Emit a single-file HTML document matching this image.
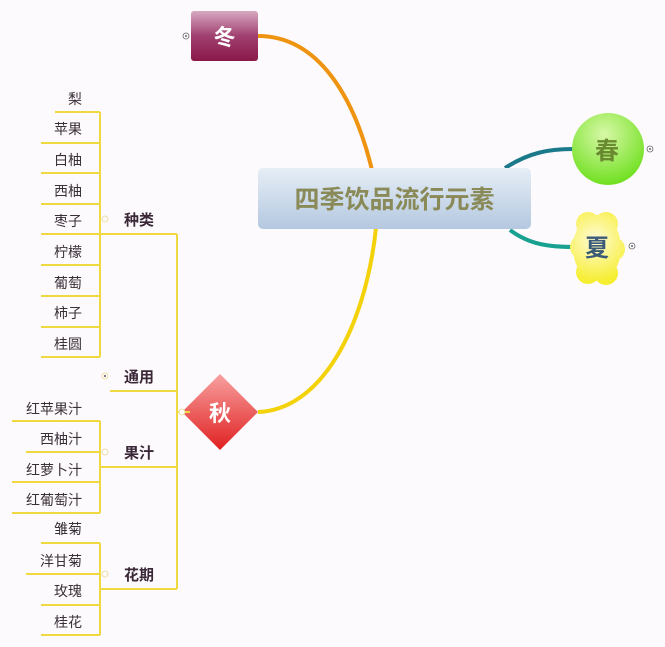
<!DOCTYPE html>
<html><head><meta charset="utf-8"><style>
html,body{margin:0;padding:0;background:#fdfafd;}
svg{display:block;font-family:"Liberation Sans","Noto Sans CJK SC",sans-serif;}
</style></head><body>
<svg width="665" height="647" viewBox="0 0 665 647" xmlns="http://www.w3.org/2000/svg">
<defs>
<linearGradient id="gw" x1="0" y1="0" x2="0" y2="1"><stop offset="0" stop-color="#d8a8c0"/><stop offset="0.5" stop-color="#a04070"/><stop offset="1" stop-color="#8a1848"/></linearGradient>
<linearGradient id="gc" x1="0" y1="0" x2="0" y2="1"><stop offset="0" stop-color="#e6eef6"/><stop offset="1" stop-color="#b4c8e0"/></linearGradient>
<radialGradient id="gs" cx="0.45" cy="0.3" r="0.7"><stop offset="0" stop-color="#d8f8a8"/><stop offset="1" stop-color="#70e020"/></radialGradient>
<radialGradient id="gx" gradientUnits="userSpaceOnUse" cx="595" cy="240" r="42"><stop offset="0" stop-color="#fffbd8"/><stop offset="1" stop-color="#f6ee30"/></radialGradient>
<linearGradient id="gq" x1="0" y1="0" x2="0" y2="1"><stop offset="0" stop-color="#f8a0a0"/><stop offset="1" stop-color="#e02020"/></linearGradient>
</defs>
<path d="M258,36 C320,36 355,100 372,170" stroke="#ef9410" stroke-width="4" fill="none"/>
<path d="M376,228 C365,330 320,410 258,412" stroke="#f4d20a" stroke-width="4" fill="none"/>
<path d="M505,168 C530,152 550,149 573,149" stroke="#1a7a8a" stroke-width="4" fill="none"/>
<path d="M510,230 C530,245 550,247 575,247" stroke="#18a090" stroke-width="4" fill="none"/>
<rect x="191" y="11" width="67" height="50" rx="3" fill="url(#gw)"/>
<text x="224.5" y="45" font-size="22" font-weight="bold" fill="#fff" text-anchor="middle">冬</text>
<circle cx="186" cy="36" r="3" fill="none" stroke="#666" stroke-width="0.8"/><circle cx="186" cy="36" r="1" fill="#666"/>
<rect x="258" y="168" width="273" height="61" rx="5" fill="url(#gc)"/>
<text x="394.5" y="208" font-size="25" font-weight="bold" fill="#8a8a58" text-anchor="middle">四季饮品流行元素</text>
<circle cx="608" cy="149" r="36" fill="url(#gs)"/>
<text x="607" y="159" font-size="24" font-weight="bold" fill="#6a8a30" text-anchor="middle">春</text>
<circle cx="650" cy="149" r="3" fill="none" stroke="#666" stroke-width="0.8"/><circle cx="650" cy="149" r="1" fill="#666"/>
<g fill="url(#gx)">
<ellipse cx="597" cy="248" rx="24" ry="33"/>
<circle cx="588" cy="224" r="12"/><circle cx="606" cy="224" r="12"/>
<circle cx="582" cy="247" r="12"/><circle cx="613" cy="249" r="12"/>
<circle cx="588" cy="272" r="12"/><circle cx="606" cy="273" r="12"/>
</g>
<text x="597" y="256" font-size="24" font-weight="bold" fill="#3a5a78" text-anchor="middle">夏</text>
<circle cx="632" cy="246" r="3" fill="none" stroke="#666" stroke-width="0.8"/><circle cx="632" cy="246" r="1" fill="#666"/>
<polygon points="220,374 258,412 220,450 182,412" fill="url(#gq)"/>
<text x="220" y="421" font-size="22" font-weight="bold" fill="#fff" text-anchor="middle">秋</text>
<g stroke="#f0d840" stroke-width="2" fill="none">
<path d="M177,234 V589 M177,412 H190"/>
<path d="M100,234 H177 M110,391 H177 M100,467 H177 M100,589 H177"/>
<path d="M100,112 V357 M55,112 H100 M41,143 H100 M41,173 H100 M41,204 H100 M41,234 H100 M41,265 H100 M41,296 H100 M41,327 H100 M41,357 H100"/>
<path d="M100,421 V513 M12,421 H100 M26,452 H100 M12,482 H100 M12,513 H100"/>
<path d="M100,543 V635 M41,543 H100 M26,574 H100 M41,605 H100 M41,635 H100"/>
</g>
<g fill="#fdfafd" stroke="#e8d890" stroke-width="0.8">
<circle cx="105" cy="219" r="3"/><circle cx="105" cy="376" r="3"/><circle cx="105" cy="452" r="3"/><circle cx="105" cy="574" r="3"/><circle cx="182" cy="412" r="3"/>
</g>
<circle cx="105" cy="376" r="1" fill="#555"/>
<g font-size="15" font-weight="bold" fill="#3a2838">
<text x="124" y="225">种类</text><text x="124" y="382">通用</text><text x="124" y="458">果汁</text><text x="124" y="580">花期</text>
</g>
<g font-size="14" fill="#3a3038" text-anchor="end">
<text x="82" y="104">梨</text><text x="82" y="134">苹果</text><text x="82" y="165">白柚</text><text x="82" y="196">西柚</text><text x="82" y="226">枣子</text><text x="82" y="257">柠檬</text><text x="82" y="288">葡萄</text><text x="82" y="318">柿子</text><text x="82" y="349">桂圆</text>
<text x="82" y="414">红苹果汁</text><text x="82" y="444">西柚汁</text><text x="82" y="475">红萝卜汁</text><text x="82" y="505">红葡萄汁</text>
<text x="82" y="534">雏菊</text><text x="82" y="566">洋甘菊</text><text x="82" y="596">玫瑰</text><text x="82" y="627">桂花</text>
</g>
</svg>
</body></html>
